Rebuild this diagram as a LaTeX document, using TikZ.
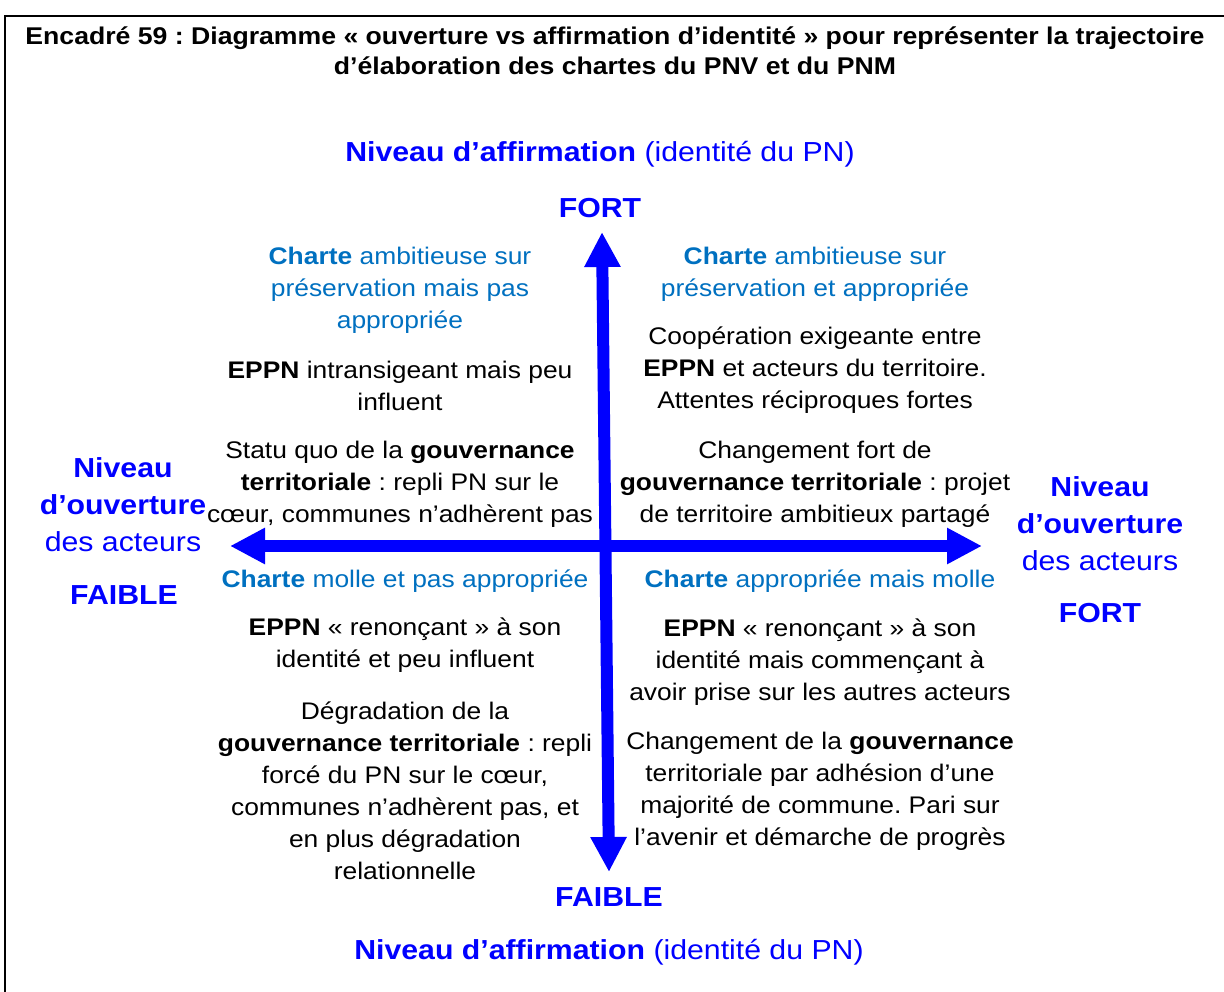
\documentclass[tikz,border=0pt]{standalone}
\usepackage{fontspec}
\setmainfont{Liberation Sans}[FakeStretch=1.1]
\frenchspacing
\usetikzlibrary{arrows.meta,positioning}
\definecolor{AxisBlue}{RGB}{0,0,255}
\definecolor{CharteBlue}{RGB}{0,112,192}

\begin{document}
\begin{tikzpicture}[
  x=1pt, y=-1pt,
  qhead/.style={align=center, inner sep=0pt, text=CharteBlue, font=\fontsize{24}{32}\selectfont},
  qtext/.style={align=center, inner sep=0pt, text=black, font=\fontsize{24}{32}\selectfont},
  axlab/.style={align=center, inner sep=0pt, text=AxisBlue, font=\fontsize{27.5}{37}\selectfont},
  title/.style={align=center, inner sep=0pt, font=\fontsize{24.2}{30}\selectfont\bfseries},
  arr/.style={AxisBlue, line width=12pt,
              {Triangle[length=35pt,width=34pt]}-{Triangle[length=35pt,width=34pt]}}
]
\useasboundingbox (0,0) rectangle (1224,992);
\draw[line width=2pt] (5,992) -- (5,16) -- (1224,16);

\node[title] (titre) at (615,51) {Encadré 59 : Diagramme « ouverture vs affirmation d’identité » pour représenter la trajectoire\\d’élaboration des chartes du PNV et du PNM};

% axes
\coordinate (vtop) at (602,232);
\coordinate (vbot) at (609,872);
\coordinate (hleft) at (230,546);
\coordinate (hright) at (982,546);
\draw[arr] (vbot) -- (vtop);
\draw[arr] (hleft) -- (hright);

\node[axlab] (afftop) at (600,154) {\textbf{Niveau d’affirmation} (identité du PN)};
\node[axlab] (fortv) at (600,208) {\textbf{FORT}};
\node[axlab] (faiblev) at (609,897) {\textbf{FAIBLE}};
\node[axlab] (affbot) at (609,952) {\textbf{Niveau d’affirmation} (identité du PN)};
\node[axlab] (ouvg) at (123,505) {\textbf{Niveau}\\\textbf{d’ouverture}\\des acteurs};
\node[axlab] (faibleh) at (124,595) {\textbf{FAIBLE}};
\node[axlab] (ouvd) at (1100,524) {\textbf{Niveau}\\\textbf{d’ouverture}\\des acteurs};
\node[axlab] (forth) at (1100,613) {\textbf{FORT}};

% haut gauche
\node[qhead] (hg1) at (400,290) {\textbf{Charte} ambitieuse sur\\préservation mais pas\\appropriée};
\node[qtext] (hg2) at (400,386) {\textbf{EPPN} intransigeant mais peu\\influent};
\node[qtext] (hg3) at (400,484) {Statu quo de la \textbf{gouvernance}\\\textbf{territoriale} : repli PN sur le\\cœur, communes n’adhèrent pas};

% haut droite
\node[qhead] (hd1) at (815,274) {\textbf{Charte} ambitieuse sur\\préservation et appropriée};
\node[qtext] (hd2) at (815,370) {Coopération exigeante entre\\\textbf{EPPN} et acteurs du territoire.\\Attentes réciproques fortes};
\node[qtext] (hd3) at (815,484) {Changement fort de\\\textbf{gouvernance territoriale} : projet\\de territoire ambitieux partagé};

% bas gauche
\node[qhead] (bg1) at (405,581) {\textbf{Charte} molle et pas appropriée};
\node[qtext] (bg2) at (405,645) {\textbf{EPPN} « renonçant » à son\\identité et peu influent};
\node[qtext] (bg3) at (405,791) {Dégradation de la\\\textbf{gouvernance territoriale} : repli\\forcé du PN sur le cœur,\\communes n’adhèrent pas, et\\en plus dégradation\\relationnelle};

% bas droite
\node[qhead] (bd1) at (820,581) {\textbf{Charte} appropriée mais molle};
\node[qtext] (bd2) at (820,662) {\textbf{EPPN} « renonçant » à son\\identité mais commençant à\\avoir prise sur les autres acteurs};
\node[qtext] (bd3) at (820,791) {Changement de la \textbf{gouvernance}\\territoriale par adhésion d’une\\majorité de commune. Pari sur\\l’avenir et démarche de progrès};
\end{tikzpicture}
\end{document}
